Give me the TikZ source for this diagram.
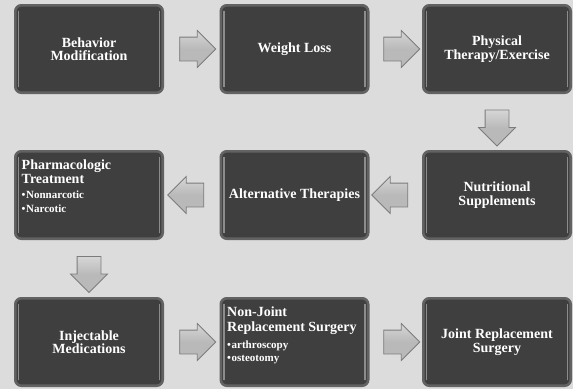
\documentclass[tikz,border=0pt]{standalone}
\usepackage{fontspec}
\setmainfont{Liberation Serif}
\usetikzlibrary{shapes.arrows,calc}
\definecolor{bg}{HTML}{DCDCDC}
\definecolor{boxfill}{HTML}{3F3F3F}
\definecolor{boxline}{HTML}{626262}
\definecolor{boxhl}{HTML}{8C8C8C}
\definecolor{arrline}{HTML}{7C7C7C}
\definecolor{arrlight}{HTML}{D6D6D6}
\definecolor{arrmid}{HTML}{B9B9B9}
\newcommand\stagefont{\fontsize{14}{13.5}\selectfont\bfseries}
\newcommand\stageleftfont{\fontsize{14}{14.3}\selectfont\bfseries}
\newcommand\bulletfont{\fontsize{11}{13}\selectfont\bfseries}
\tikzset{
  stagebox/.style={draw=boxline, line width=2.6pt, fill=boxfill, rounded corners=6pt,
    minimum width=147.4pt, minimum height=87.4pt, inner sep=3pt,
    text=white, align=center, font=\stagefont,
    path picture={
      \draw[boxhl, line width=1.1pt, line cap=round]
        ([shift={(3.2pt,-6pt)}]path picture bounding box.north west) --
        ([shift={(3.2pt,6pt)}]path picture bounding box.south west);
      \draw[boxhl, line width=1.1pt, line cap=round]
        ([shift={(-3.2pt,-6pt)}]path picture bounding box.north east) --
        ([shift={(-3.2pt,6pt)}]path picture bounding box.south east);
    }},
  lefttext/.style={anchor=north west, inner sep=0pt, text=white, align=left, font=\stageleftfont},
  blockarrow/.style={single arrow, draw=arrline, line width=0.8pt,
    inner sep=11.5pt, single arrow head extend=6.5pt, minimum height=36pt,
    top color=arrlight, bottom color=arrmid, middle color=arrmid, shading angle=0}
}
\begin{document}
\begin{tikzpicture}[x=1pt,y=-1pt]
\fill[bg] (0,0) rectangle (573,389);
\useasboundingbox (0,0) rectangle (573,389);

% row 1
\node[stagebox] (b1) at (89,49) {Behavior\\Modification};
\node[stagebox] (b2) at (294.5,49) {Weight Loss};
\node[stagebox] (b3) at (497,49) {Physical\\Therapy/Exercise};
% row 2
\node[stagebox] (b6) at (89,195) {};
\node[stagebox] (b5) at (294.5,195) {Alternative Therapies};
\node[stagebox] (b4) at (497,195) {Nutritional\\Supplements};
% row 3
\node[stagebox] (b7) at (89,342) {Injectable\\Medications};
\node[stagebox] (b8) at (294.5,342) {};
\node[stagebox] (b9) at (497,342) {Joint Replacement\\Surgery};

\node[lefttext] (t6) at ([shift={(7.5pt,-9.5pt)}]b6.north west)
  {Pharmacologic\\Treatment\\{\bulletfont •\hspace{0.6pt}Nonnarcotic}\\{\bulletfont •\hspace{0.6pt}Narcotic}};
\node[lefttext] (t8) at ([shift={(7.5pt,-10pt)}]b8.north west)
  {Non-Joint\\Replacement Surgery\\[3pt]{\bulletfont •\hspace{0.6pt}arthroscopy}\\[-1pt]{\bulletfont •\hspace{0.6pt}osteotomy}};

% arrows
\node[blockarrow] (a12) at ($(b1.east)!0.5!(b2.west)$) {};
\node[blockarrow] (a23) at ($(b2.east)!0.5!(b3.west)$) {};
\node[blockarrow, shape border rotate=270] (a34) at ($(b3.south)!0.5!(b4.north)$) {};
\node[blockarrow, shape border rotate=180] (a45) at ($(b4.west)!0.5!(b5.east)$) {};
\node[blockarrow, shape border rotate=180] (a56) at ($(b5.west)!0.5!(b6.east)$) {};
\node[blockarrow, shape border rotate=270] (a67) at ($(b6.south)!0.5!(b7.north)$) {};
\node[blockarrow] (a78) at ($(b7.east)!0.5!(b8.west)$) {};
\node[blockarrow] (a89) at ($(b8.east)!0.5!(b9.west)$) {};
\end{tikzpicture}
\end{document}
